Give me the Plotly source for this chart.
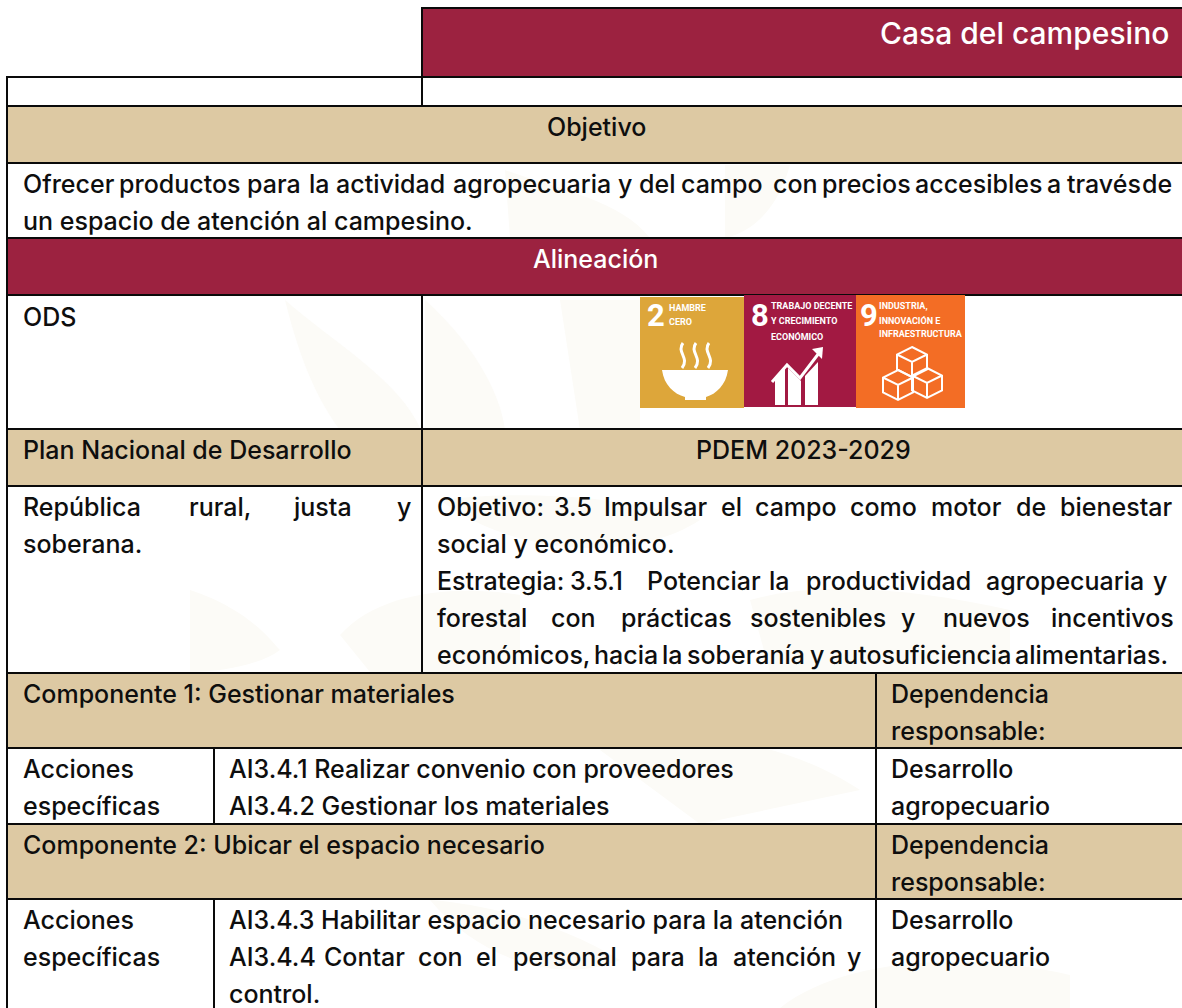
import plotly.graph_objects as go

W, H = 1182, 1008
BURGUNDY = "#9C2240"
TAN = "#DDC9A3"
INK = "#0E0E0E"
PALE = "#FCFBF7"
FONT = "Inter"
SIZE = 25
CLEAR = "rgba(0,0,0,0)"

# (x0, y0, x1, y1, fill)
cells = [
    (422, 8, 1190, 77, BURGUNDY),
    (7, 77, 422, 106, CLEAR),
    (422, 77, 1190, 106, CLEAR),
    (7, 106, 1190, 163, TAN),
    (7, 163, 1190, 238, CLEAR),
    (7, 238, 1190, 295, BURGUNDY),
    (7, 295, 422, 429, CLEAR),
    (422, 295, 1190, 429, CLEAR),
    (7, 429, 422, 486, TAN),
    (422, 429, 1190, 486, TAN),
    (7, 486, 422, 673, CLEAR),
    (422, 486, 1190, 673, CLEAR),
    (7, 673, 876, 748, TAN),
    (876, 673, 1190, 748, TAN),
    (7, 748, 214, 824, CLEAR),
    (214, 748, 876, 824, CLEAR),
    (876, 748, 1190, 824, CLEAR),
    (7, 824, 876, 899, TAN),
    (876, 824, 1190, 899, TAN),
    (7, 899, 214, 1020, CLEAR),
    (214, 899, 876, 1020, CLEAR),
    (876, 899, 1190, 1020, CLEAR),
]

# (text, x, y, anchor, colour)
plain_lines = [
    ("Casa del campesino", 1170, 33, "right", "white"),
    ("Objetivo", 596, 127, "center", INK),
    ("un espacio de atención al campesino.", 22, 221, "left", INK),
    ("Alineación", 595, 259, "center", "white"),
    ("ODS", 22, 317, "left", INK),
    ("Plan Nacional de Desarrollo", 22, 450, "left", INK),
    ("PDEM 2023-2029", 803, 450, "center", INK),
    ("soberana.", 22, 544, "left", INK),
    ("social y económico.", 436, 544, "left", INK),
    ("Componente 1: Gestionar materiales", 22, 694, "left", INK),
    ("Dependencia", 890, 694, "left", INK),
    ("responsable:", 890, 731, "left", INK),
    ("Acciones", 22, 769, "left", INK),
    ("específicas", 22, 806, "left", INK),
    ("AI3.4.1 Realizar convenio con proveedores", 228, 769, "left", INK),
    ("AI3.4.2 Gestionar los materiales", 228, 806, "left", INK),
    ("Desarrollo", 890, 769, "left", INK),
    ("agropecuario", 890, 806, "left", INK),
    ("Componente 2: Ubicar el espacio necesario", 22, 845, "left", INK),
    ("Dependencia", 890, 845, "left", INK),
    ("responsable:", 890, 882, "left", INK),
    ("Acciones", 22, 920, "left", INK),
    ("específicas", 22, 957, "left", INK),
    ("AI3.4.3 Habilitar espacio necesario para la atención", 228, 920, "left", INK),
    ("Desarrollo", 890, 920, "left", INK),
    ("agropecuario", 890, 957, "left", INK),
    ("control.", 228, 994, "left", INK),
]

# justified lines: words, left edge of each word, y
justified_lines = [
    (["Ofrecer", "productos", "para", "la", "actividad", "agropecuaria", "y", "del", "campo", "con", "precios", "accesibles", "a", "través", "de"],
     [22, 118, 246, 308, 335, 452, 617, 638, 680, 772, 821, 914, 1046, 1066, 1141], 184),
    (["República", "rural,", "justa", "y"], [22, 188, 292, 396], 507),
    (["Objetivo:", "3.5", "Impulsar", "el", "campo", "como", "motor", "de", "bienestar"],
     [436, 553, 603, 720, 754, 849, 930, 1015, 1059], 507),
    (["Estrategia:", "3.5.1", "Potenciar", "la", "productividad", "agropecuaria", "y"],
     [436, 569, 646, 768, 805, 985, 1152], 581),
    (["forestal", "con", "prácticas", "sostenibles", "y", "nuevos", "incentivos"],
     [436, 550, 620, 749, 900, 942, 1050], 618),
    (["económicos,", "hacia", "la", "soberanía", "y", "autosuficiencia", "alimentarias."],
     [436, 593, 661, 686, 809, 828, 1014], 655),
    (["AI3.4.4", "Contar", "con", "el", "personal", "para", "la", "atención", "y"],
     [228, 323, 417, 475, 512, 630, 697, 732, 846], 957),
]

# pale watermark leaves behind the table (closed SVG paths)
watermark = [
    "M285,300 C330,340 400,380 421,430 L340,430 C310,390 295,340 285,300 Z",
    "M425,300 C470,340 500,390 505,430 L425,430 Z",
    "M505,170 C560,190 620,200 650,238 L510,238 Z",
    "M725,165 L790,165 C780,200 760,230 725,238 Z",
    "M560,300 L640,300 L640,430 L580,430 Z",
    "M190,590 C250,610 270,640 280,650 C260,665 220,672 190,672 Z",
    "M340,635 C380,590 460,585 520,595 L520,672 L370,672 Z",
    "M440,500 C520,490 620,495 700,520 C640,560 520,560 440,500 Z",
    "M750,600 C820,580 920,590 1010,610 L1010,672 L770,672 Z",
    "M600,750 C700,720 800,750 860,790 L700,824 Z",
    "M780,1008 C840,960 960,950 1070,975 L1070,1008 Z",
    "M430,900 C500,905 570,930 620,960 C560,985 480,960 430,900 Z",
]

icon_tiles = [(640, 297, 744, 408, "#DDA63A"), (744, 295, 856, 407, "#A21942"), (856, 295, 965, 408, "#F36D25")]
icon_numbers = [("2", 646, 315), ("8", 750, 315), ("9", 859, 315)]
icon_labels = [
    ("HAMBRE", 668, 308), ("CERO", 668, 322),
    ("TRABAJO DECENTE", 770, 306), ("Y CRECIMIENTO", 770, 321), ("ECONÓMICO", 770, 336),
    ("INDUSTRIA,", 878, 306), ("INNOVACIÓN E", 878, 320), ("INFRAESTRUCTURA", 878, 334),
]

shapes = []
for d in watermark:
    shapes.append(dict(type="path", path=d, fillcolor=PALE, line=dict(width=0), xref="x", yref="y"))
for x0, y0, x1, y1, fill in cells:
    shapes.append(dict(type="rect", x0=x0, y0=y0, x1=x1, y1=y1, fillcolor=fill,
                       line=dict(color="#0A0A0A", width=2), xref="x", yref="y"))
for x0, y0, x1, y1, fill in icon_tiles:
    shapes.append(dict(type="rect", x0=x0, y0=y0, x1=x1, y1=y1, fillcolor=fill, line=dict(width=0), xref="x", yref="y"))

white_fill = [
    "M662,370 L728,370 C726,385 716,394 706,397 L706,400 L685,400 L685,397 C674,394 664,385 662,370 Z",
    "M775,405 L775,378 L785,367 L785,405 Z",
    "M788,405 L788,368 L801,381 L801,405 Z",
    "M805,405 L805,376 L818,362 L818,405 Z",
    "M812,349 L823,347 L822,359 Z",
]
white_stroke = [
    "M683,343 C676,352 690,358 682,368",
    "M696,343 C689,352 703,358 695,368",
    "M709,343 C702,352 716,358 708,368",
    "M772,382 L787,365 L800,378 L819,353",
]
cube_centres = [(912, 362), (898, 385), (927, 383)]
cube_r = 15
for d in white_fill:
    shapes.append(dict(type="path", path=d, fillcolor="white", line=dict(width=0), xref="x", yref="y"))
for d in white_stroke:
    shapes.append(dict(type="path", path=d, line=dict(color="white", width=3), xref="x", yref="y"))
for cx, cy in cube_centres:
    r = cube_r
    d = (f"M{cx},{cy-r} L{cx+r},{cy-r/2} L{cx+r},{cy+r/2} L{cx},{cy+r} L{cx-r},{cy+r/2} L{cx-r},{cy-r/2} Z "
         f"M{cx-r},{cy-r/2} L{cx},{cy} L{cx+r},{cy-r/2} M{cx},{cy} L{cx},{cy+r}")
    shapes.append(dict(type="path", path=d, line=dict(color="white", width=2), xref="x", yref="y"))


def note(text, x, y, anchor="left", colour=INK, family=FONT, size=SIZE, weight=500):
    return dict(text=text, x=x, y=y, xref="x", yref="y", xanchor=anchor, yanchor="middle",
                showarrow=False, align=anchor, borderpad=0,
                font=dict(family=family, size=size, color=colour, weight=weight))


annotations = []
for text, x, y, anchor, colour in plain_lines:
    size = 30 if text == "Casa del campesino" else SIZE
    annotations.append(note(text, x, y, anchor, colour, size=size))
for words, xs, y in justified_lines:
    for word, x in zip(words, xs):
        annotations.append(note(word, x, y))
for text, x, y in icon_numbers:
    annotations.append(note(text, x, y, "left", "white", "Roboto", 31, 700))
for text, x, y in icon_labels:
    annotations.append(note(text, x, y, "left", "white", "Roboto", 9, 700))

fig = go.Figure(go.Scatter(x=[0, W], y=[0, H], mode="markers", marker=dict(opacity=0), hoverinfo="skip", showlegend=False))
fig.update_layout(
    width=W, height=H, margin=dict(l=0, r=0, t=0, b=0), paper_bgcolor="white", plot_bgcolor="white",
    xaxis=dict(range=[0, W], visible=False, fixedrange=True, domain=[0, 1]),
    yaxis=dict(range=[H, 0], visible=False, fixedrange=True, domain=[0, 1]),
    shapes=shapes, annotations=annotations, showlegend=False,
)
fig.write_html("out.html", config=dict(displayModeBar=False),
               post_script="document.body.style.margin='0';document.body.style.overflow='hidden';")
